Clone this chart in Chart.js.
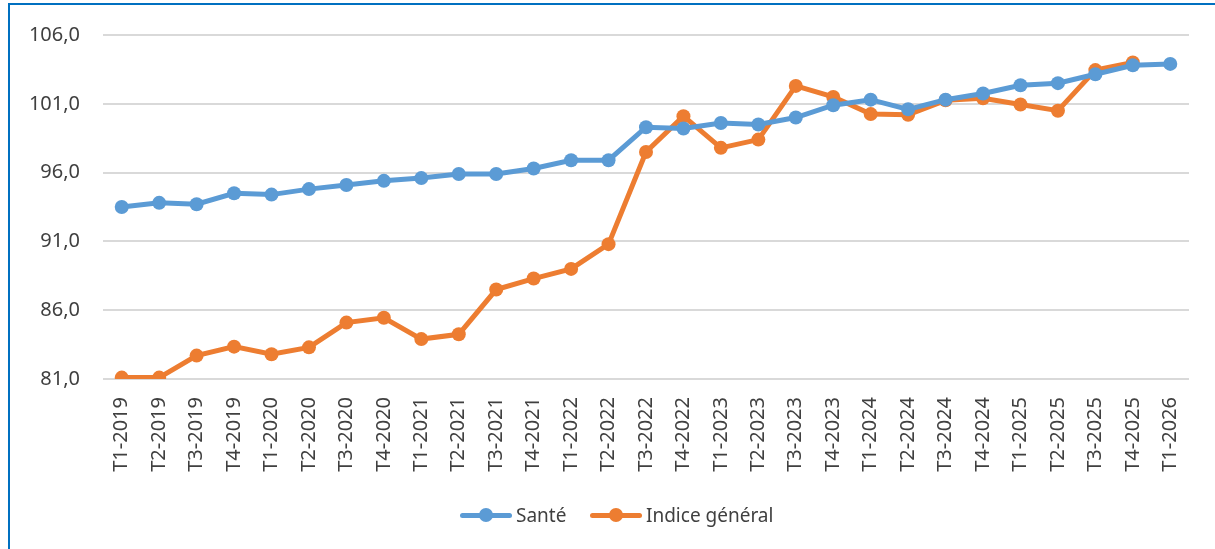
<!DOCTYPE html>
<html>
<head>
<meta charset="utf-8">
<script src="https://cdn.jsdelivr.net/npm/chart.js@4/dist/chart.umd.min.js"></script>
<style>
  html, body { margin: 0; padding: 0; background: #fff; }
  #wrap { position: relative; width: 1215px; height: 549px; overflow: hidden; }
  #frame { position: absolute; left: 8px; top: 3px; width: 1300px; height: 700px;
           border-top: 2px solid #0070C0; border-left: 2px solid #0070C0; }
  canvas { position: absolute; left: 0; top: 0; }
  #legend { position: absolute; top: 503px; left: 0; width: 1215px; height: 24px;
            font-family: "Noto Sans", sans-serif; font-size: 19px; color: #404040; }
  .item { position: absolute; top: 0; height: 24px; line-height: 24px; white-space: nowrap; }
  .sw { display: inline-block; position: relative; width: 52px; height: 24px; vertical-align: top; margin-right: 4px; }
  .sw .ln { position: absolute; left: 0; right: 0; top: 9.5px; height: 5px; border-radius: 2.5px; }
  .sw .pt { position: absolute; left: 19px; top: 5px; width: 14px; height: 14px; border-radius: 50%; }
</style>
</head>
<body>
<div id="wrap">
  <div id="frame"></div>
  <canvas id="c" width="1215" height="549"></canvas>
  <div id="legend"></div>
</div>
<script>
const categories = ["T1-2019","T2-2019","T3-2019","T4-2019","T1-2020","T2-2020","T3-2020","T4-2020",
  "T1-2021","T2-2021","T3-2021","T4-2021","T1-2022","T2-2022","T3-2022","T4-2022",
  "T1-2023","T2-2023","T3-2023","T4-2023","T1-2024","T2-2024","T3-2024","T4-2024",
  "T1-2025","T2-2025","T3-2025","T4-2025","T1-2026"];
const sante = [93.5, 93.8, 93.7, 94.5, 94.4, 94.8, 95.1, 95.4,
  95.6, 95.9, 95.9, 96.3, 96.9, 96.9, 99.3, 99.2,
  99.6, 99.5, 100.0, 100.9, 101.3, 100.6, 101.3, 101.75,
  102.35, 102.5, 103.15, 103.8, 103.9];
const indiceGeneral = [81.1, 81.1, 82.7, 83.35, 82.8, 83.3, 85.1, 85.45,
  83.9, 84.25, 87.5, 88.3, 89.0, 90.8, 97.5, 100.1,
  97.8, 98.4, 102.3, 101.5, 100.25, 100.2, 101.25, 101.4,
  100.95, 100.5, 103.45, 104.0, null];
const seriesNames = ["Santé", "Indice général"];
const colors = ["#5B9BD5", "#ED7D31"];
const yMin = 81, yMax = 106, yStep = 5;

const FONT = "'Noto Sans', sans-serif";

new Chart(document.getElementById('c'), {
  type: 'line',
  data: {
    labels: categories,
    datasets: [
      { label: seriesNames[0], data: sante, borderColor: colors[0], backgroundColor: colors[0],
        borderWidth: 5, pointRadius: 7, pointHoverRadius: 7, pointBorderWidth: 0, tension: 0 },
      { label: seriesNames[1], data: indiceGeneral, borderColor: colors[1], backgroundColor: colors[1],
        borderWidth: 5, pointRadius: 7, pointHoverRadius: 7, pointBorderWidth: 0, tension: 0, spanGaps: false }
    ]
  },
  options: {
    responsive: false,
    animation: false,
    layout: { padding: { left: 0, right: 26, top: 34, bottom: 0 } },
    plugins: { legend: { display: false }, tooltip: { enabled: false } },
    scales: {
      x: {
        offset: true,
        grid: { display: false, drawTicks: false },
        border: { display: false },
        ticks: { autoSkip: false, maxRotation: 90, minRotation: 90, padding: 18,
                 color: '#404040', font: { family: FONT, size: 20 } },
        afterFit: s => { s.height = 170; }
      },
      y: {
        min: yMin, max: yMax,
        grid: { color: '#d9d9d9', lineWidth: 2, drawTicks: false },
        border: { display: false },
        ticks: { stepSize: yStep, padding: 23, color: '#404040', font: { family: FONT, size: 20 },
                 callback: v => v.toFixed(1).replace('.', ',') },
        afterFit: s => { s.width = 103; }
      }
    }
  }
});

const legend = document.getElementById('legend');
const lefts = [460, 590];
seriesNames.forEach((n, i) => {
  const d = document.createElement('div');
  d.className = 'item';
  d.style.left = lefts[i] + 'px';
  d.innerHTML = '<span class="sw"><span class="ln" style="background:' + colors[i] + '"></span><span class="pt" style="background:' + colors[i] + '"></span></span>' + n;
  legend.appendChild(d);
});
</script>
</body>
</html>
